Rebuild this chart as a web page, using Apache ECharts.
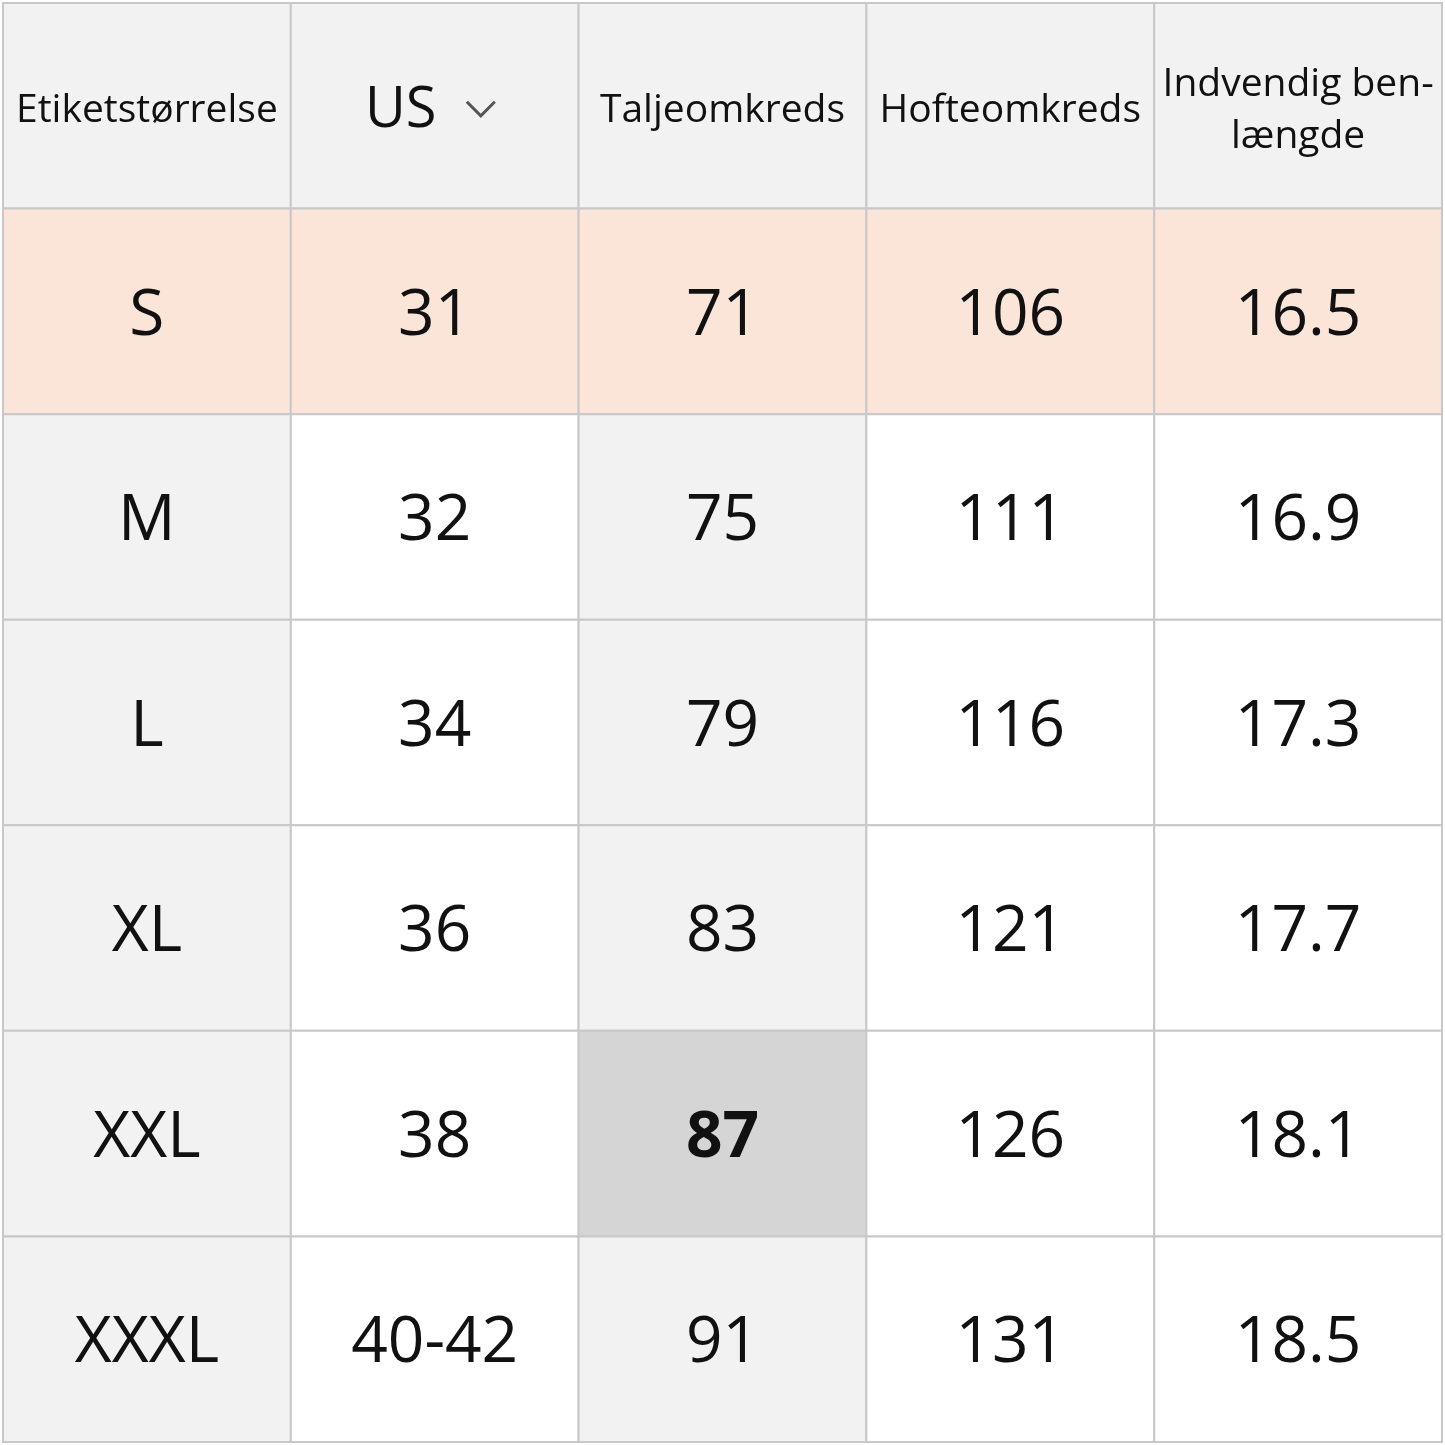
<!DOCTYPE html>
<html><head><meta charset="utf-8">
<script src="https://cdn.jsdelivr.net/npm/echarts@6/dist/echarts.min.js"></script>
<style>html,body{margin:0;padding:0;background:#fff}#c{width:1445px;height:1445px}</style>
</head><body><div id="c"></div>
<script>
const headers = ["Etiketstørrelse","US","Taljeomkreds","Hofteomkreds","Indvendig ben-\nlængde"];
const sizes = ["S","M","L","XL","XXL","XXXL"];
const us = ["31","32","34","36","38","40-42"];
const waist = ["71","75","79","83","87","91"];
const hip = ["106","111","116","121","126","131"];
const inseam = ["16.5","16.9","17.3","17.7","18.1","18.5"];

const cols = [sizes, us, waist, hip, inseam];
const data = [];
for (let c = 0; c < 5; c++) data.push([c, 0, headers[c]]);
for (let r = 0; r < 6; r++) for (let c = 0; c < 5; c++) data.push([c, r + 1, cols[c][r]]);

function bg(c, r) {
  if (r === 0) return '#f2f2f2';
  if (r === 1) return '#fbe4d8';
  if (c === 2 && r === 5) return '#d5d5d5';
  if (c === 0 || c === 2) return '#f2f2f2';
  return '#ffffff';
}
const font = '"Open Sans","Noto Sans",sans-serif';
const chart = echarts.init(document.getElementById('c'));
chart.setOption({
  animation: false,
  grid: {left: 3, top: 3, width: 1439, height: 1439},
  xAxis: {type: 'category', data: [0,1,2,3,4], show: false},
  yAxis: {type: 'category', data: [0,1,2,3,4,5,6], inverse: true, show: false},
  series: [{
    type: 'custom', data: data,
    renderItem: function (params, api) {
      const c = api.value(0), r = api.value(1);
      const p = api.coord([c, r]); const s = api.size([1, 1]);
      const x = p[0] - s[0] / 2, y = p[1] - s[1] / 2;
      const txt = data[params.dataIndex][2];
      const children = [{type: 'rect', shape: {x: x, y: y, width: s[0], height: s[1]},
        style: {fill: bg(c, r), stroke: '#c8c8c8', lineWidth: 2}}];
      let fs = r === 0 ? (c === 1 ? 56 : 39) : 64;
      let tx = p[0];
      if (r === 0 && c === 1) tx = p[0] - 34;
      children.push({type: 'text', style: {text: txt, x: tx, y: p[1] + 5, align: 'center', verticalAlign: 'middle',
        font: ((c === 2 && r === 5) ? 'bold ' : '') + fs + 'px ' + font, fill: '#111', lineHeight: 52}});
      if (r === 0 && c === 1) {
        children.push({type: 'polyline', shape: {points: [[x+176,p[1]-4],[x+190,p[1]+10],[x+204,p[1]-4]]},
          style: {stroke: '#555', lineWidth: 3, fill: null}});
      }
      return {type: 'group', children: children};
    }
  }]
});
</script></body></html>
